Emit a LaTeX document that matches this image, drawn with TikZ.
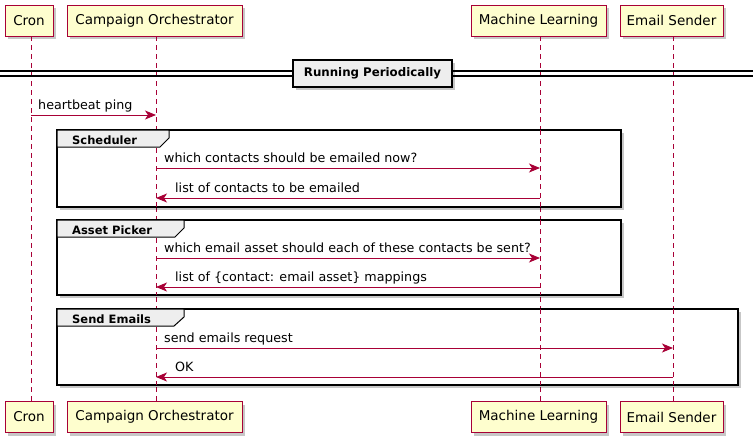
\documentclass[tikz,border=0pt]{standalone}
\usepackage{fontspec}
\setmainfont{DejaVu Sans}
\usetikzlibrary{arrows.meta,shadows}
\definecolor{pborder}{HTML}{A80036}
\definecolor{pfill}{HTML}{FEFECE}
\definecolor{gfill}{HTML}{EEEEEE}
\begin{document}
\begin{tikzpicture}[x=1pt,y=-1pt,
  shad/.style={drop shadow={shadow xshift=3pt,shadow yshift=-3pt,opacity=0.22,fill=black}},
  part/.style={draw=pborder,fill=pfill,line width=1pt,minimum height=31pt,inner sep=0pt,
    font=\fontsize{13.5}{15}\selectfont,shad},
  life/.style={draw=pborder,line width=0.8pt,dash pattern=on 5pt off 4pt},
  msg/.style={draw=pborder,line width=0.9pt,-{Stealth[length=11pt,width=9pt,inset=3pt]}},
  lbl/.style={anchor=base west,inner sep=0pt,font=\fontsize{12.7}{14}\selectfont},
  frame/.style={draw=black,line width=1.6pt,shad},
  tab/.style={draw=black,fill=gfill,line width=1pt},
  tablbl/.style={anchor=base west,inner sep=0pt,font=\bfseries\fontsize{11.5}{13}\selectfont}
]
\useasboundingbox (0,0) rectangle (753,445);
% participants top
\node[part,minimum width=48pt] (cronT) at (29,20.5) {Cron};
\node[part,minimum width=175pt] (coT) at (154.5,20.5) {Campaign Orchestrator};
\node[part,minimum width=135pt] (mlT) at (538.5,20.5) {Machine Learning};
\node[part,minimum width=103pt] (esT) at (671.5,20.5) {Email Sender};
% participants bottom
\node[part,minimum width=48pt] (cronB) at (29,417) {Cron};
\node[part,minimum width=175pt] (coB) at (154.5,417) {Campaign Orchestrator};
\node[part,minimum width=135pt] (mlB) at (538.5,417) {Machine Learning};
\node[part,minimum width=103pt] (esB) at (671.5,417) {Email Sender};
% lifelines
\draw[life] (31,36) -- (31,401);
\draw[life] (156,36) -- (156,401);
\draw[life] (540,36) -- (540,401);
\draw[life] (673,36) -- (673,401);
% divider
\draw[line width=1.1pt] (0,71) -- (753,71);
\draw[line width=1.1pt] (0,76) -- (753,76);
\node[draw=black,fill=gfill,line width=1.5pt,shad,minimum width=159pt,minimum height=27pt,inner sep=0pt,
  font=\bfseries\fontsize{11.8}{13}\selectfont] (div) at (372.5,73.5) {Running Periodically};
% heartbeat
\coordinate (c1) at (31,115);
\coordinate (o1) at (156,115);
\draw[msg] (c1) -- (o1);
\node[lbl] (l1) at (38,109) {heartbeat ping};
% group frames
\draw[frame,fill=white] (57,130) rectangle (621,207);
\draw[frame,fill=white] (57,220) rectangle (621,295);
\draw[frame,fill=white] (57,309) rectangle (738,385);
% lifelines over group frames
\draw[life] (156,130) -- (156,207);
\draw[life] (540,130) -- (540,207);
\draw[life] (156,220) -- (156,295);
\draw[life] (540,220) -- (540,295);
\draw[life] (156,309) -- (156,385);
\draw[life] (540,309) -- (540,385);
\draw[life] (673,309) -- (673,385);
% Scheduler group
\draw[tab] (57,130) -- (169,130) -- (169,138) -- (160,147) -- (57,147) -- cycle;
\node[tablbl] (g1) at (72,144.5) {Scheduler};
\coordinate (o2) at (156,168);
\coordinate (m2) at (540,168);
\draw[msg] (o2) -- (m2);
\node[lbl] (l2) at (164,162) {which contacts should be emailed now?};
\coordinate (m3) at (540,198);
\coordinate (o3) at (156,198);
\draw[msg] (m3) -- (o3);
\node[lbl] (l3) at (175,192) {list of contacts to be emailed};
% Asset Picker group
\draw[tab] (57,220) -- (184,220) -- (184,228) -- (175,237) -- (57,237) -- cycle;
\node[tablbl] (g2) at (72,234.5) {Asset Picker};
\coordinate (o4) at (156,258);
\coordinate (m4) at (540,258);
\draw[msg] (o4) -- (m4);
\node[lbl] (l4) at (164,252) {which email asset should each of these contacts be sent?};
\coordinate (m5) at (540,287);
\coordinate (o5) at (156,287);
\draw[msg] (m5) -- (o5);
\node[lbl] (l5) at (175,281) {list of \{contact: email asset\} mappings};
% Send Emails group
\draw[tab] (57,309) -- (184,309) -- (184,317) -- (174,326) -- (57,326) -- cycle;
\node[tablbl] (g3) at (72,323.5) {Send Emails};
\coordinate (o6) at (156,348);
\coordinate (e6) at (673,348);
\draw[msg] (o6) -- (e6);
\node[lbl] (l6) at (164,342) {send emails request};
\coordinate (e7) at (673,377);
\coordinate (o7) at (156,377);
\draw[msg] (e7) -- (o7);
\node[lbl] (l7) at (175,371) {OK};
\end{tikzpicture}
\end{document}
